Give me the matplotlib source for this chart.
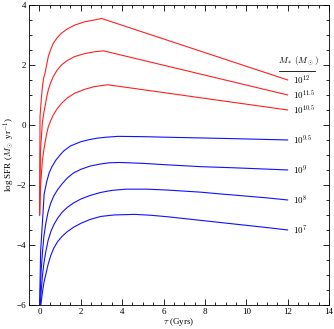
import matplotlib
matplotlib.use("Agg")
import matplotlib.pyplot as plt
from matplotlib.ticker import MultipleLocator

plt.rcParams['font.family'] = ['Liberation Serif', 'DejaVu Serif']
plt.rcParams['mathtext.fontset'] = 'cm'
plt.rcParams['font.size'] = 6.5

# values (tau in Gyr, log SFR)
t_12 = [0.01, 0.03, 0.10, 0.15, 0.20, 0.27, 0.35, 0.43, 0.55, 0.67, 0.85, 1.07, 1.35, 1.71, 2.2, 2.67, 3.0, 12.0]
y_12 = [-3.0, 0.28, 0.94, 1.3, 1.55, 1.72, 2.0, 2.28, 2.52, 2.72, 2.9, 3.06, 3.2, 3.33, 3.44, 3.50, 3.55, 1.5]

t_115 = [0.01, 0.05, 0.14, 0.20, 0.27, 0.35, 0.43, 0.55, 0.67, 0.85, 1.07, 1.35, 1.71, 2.2, 2.67, 3.1, 12.0]
y_115 = [-3.0, -0.9, 0.06, 0.35, 0.61, 0.92, 1.17, 1.42, 1.61, 1.82, 2.00, 2.15, 2.28, 2.38, 2.44, 2.47, 1.0]

t_105 = [0.01, 0.06, 0.14, 0.20, 0.27, 0.35, 0.43, 0.55, 0.67, 0.85, 1.07, 1.35, 1.71, 2.2, 2.67, 3.3, 12.0]
y_105 = [-3.0, -2.0, -1.2, -0.9, -0.6, -0.3, -0.06, 0.15, 0.33, 0.53, 0.72, 0.9, 1.06, 1.19, 1.28, 1.34, 0.5]

t_95 = [0.01, 0.06, 0.15, 0.23, 0.35, 0.47, 0.6, 0.80, 1.0, 1.17, 1.5, 2.0, 2.4, 2.8, 3.2, 3.8, 5.0, 6.2, 9.0, 12.0]
y_95 = [-6.0, -4.2, -3.2, -2.3, -1.9, -1.6, -1.4, -1.17, -1.0, -0.87, -0.7, -0.56, -0.49, -0.44, -0.41, -0.38, -0.39, -0.41, -0.45, -0.5]

t_9 = [0.02, 0.08, 0.15, 0.22, 0.31, 0.42, 0.55, 0.7, 0.88, 1.1, 1.36, 1.65, 2.0, 2.45, 2.96, 3.4, 3.9, 5.0, 6.2, 7.8, 9.5, 12.0]
y_9 = [-6.0, -4.9, -4.22, -3.7, -3.28, -2.9, -2.6, -2.36, -2.16, -1.96, -1.76, -1.6, -1.48, -1.37, -1.3, -1.26, -1.25, -1.28, -1.33, -1.39, -1.43, -1.5]

t_8 = [0.04, 0.08, 0.15, 0.22, 0.31, 0.42, 0.55, 0.7, 0.88, 1.1, 1.36, 1.65, 2.0, 2.45, 2.96, 3.5, 4.2, 5.2, 6.2, 7.8, 8.6, 11.0, 12.0]
y_8 = [-6.0, -5.6, -5.0, -4.6, -4.22, -3.85, -3.56, -3.32, -3.11, -2.91, -2.74, -2.6, -2.47, -2.35, -2.25, -2.18, -2.14, -2.14, -2.17, -2.24, -2.29, -2.43, -2.5]

t_7 = [0.07, 0.15, 0.22, 0.31, 0.42, 0.55, 0.7, 0.88, 1.1, 1.36, 1.65, 2.0, 2.45, 2.96, 3.6, 4.6, 5.4, 6.2, 7.4, 8.6, 9.8, 11.0, 12.0]
y_7 = [-6.0, -5.56, -5.25, -4.98, -4.65, -4.35, -4.1, -3.89, -3.71, -3.55, -3.41, -3.28, -3.15, -3.05, -3.0, -2.98, -3.01, -3.06, -3.15, -3.24, -3.33, -3.42, -3.5]

red_curves = [(t_12, y_12, r'$10^{12}$'), (t_115, y_115, r'$10^{11.5}$'),
              (t_105, y_105, r'$10^{10.5}$')]
blue_curves = [(t_95, y_95, r'$10^{9.5}$'), (t_9, y_9, r'$10^{9}$'),
               (t_8, y_8, r'$10^{8}$'), (t_7, y_7, r'$10^{7}$')]

fig = plt.figure(figsize=(3.34, 3.29), dpi=100)
ax = fig.add_axes([0.087, 0.073, 0.898, 0.912])

for t, y, lab in red_curves:
    ax.plot(t, y, color='#ff2020', lw=0.8)
    ax.text(12.25, y[-1], lab, ha='left', va='center', fontsize=6.5)
for t, y, lab in blue_curves:
    ax.plot(t, y, color='#1010ff', lw=0.8)
    ax.text(12.25, y[-1], lab, ha='left', va='center', fontsize=6.5)

# legend header with rule underneath
ax.text(12.5, 2.1, r'$M_*\,(M_\odot)$', ha='center', va='center', fontsize=6.5)
ax.plot([11.6, 13.3], [1.81, 1.81], color='black', lw=0.6, clip_on=False)

ax.set_xlim(-0.5, 14)
ax.set_ylim(-6, 4)
ax.xaxis.set_major_locator(MultipleLocator(2))
ax.xaxis.set_minor_locator(MultipleLocator(0.5))
ax.yaxis.set_major_locator(MultipleLocator(2))
ax.yaxis.set_minor_locator(MultipleLocator(0.5))
ax.tick_params(which='both', direction='in', top=True, right=True, width=0.6, pad=2)
ax.tick_params(which='major', length=4)
ax.tick_params(which='minor', length=2)
for s in ax.spines.values():
    s.set_linewidth(0.6)

ax.set_xlabel(r'$\tau$ (Gyrs)', labelpad=0)
ax.set_ylabel(r'log SFR ($M_\odot$ yr$^{-1}$)', labelpad=0)

fig.savefig('out.png', dpi=100)
